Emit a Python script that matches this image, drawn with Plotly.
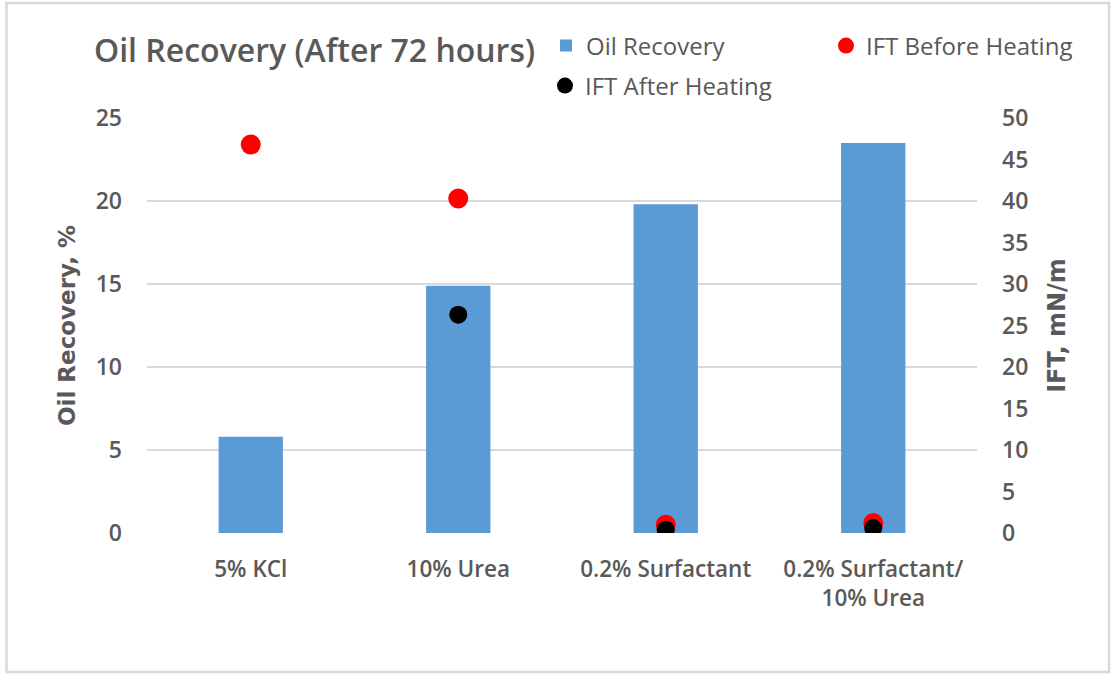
import plotly.graph_objects as go

# Test fluids along the x axis
categories = ["5% KCl", "10% Urea", "0.2% Surfactant", "0.2% Surfactant/<br>10% Urea"]

# Oil recovery after 72 hours, %
oil_recovery = [5.8, 14.9, 19.8, 23.5]

# Interfacial tension, mN/m
ift_before = [46.8, 40.3, 1.0, 1.2]
ift_after = [None, 26.3, 0.4, 0.6]

left_ticks = [0, 5, 10, 15, 20, 25]
right_ticks = [0, 5, 10, 15, 20, 25, 30, 35, 40, 45, 50]

W, H = 1114, 674
ML, MR, MT, MB = 147, 137, 118, 141
PW, PH = W - ML - MR, H - MT - MB

GREY = "#595959"
GRID = "#d9d9d9"
BODY = "'Open Sans', Lato, sans-serif"
AXT = "'DejaVu Sans', Verdana, sans-serif"


def px_x(x):
    return (x - ML) / PW


def px_y(y):
    return (H - MB - y) / PH


fig = go.Figure()

fig.add_trace(go.Bar(
    x=categories, y=oil_recovery, name="Oil Recovery",
    marker=dict(color="#5b9bd5", line=dict(width=0)),
    width=0.31, yaxis="y", legend="legend",
))
fig.add_trace(go.Scatter(
    x=categories, y=ift_before, name="IFT Before Heating", mode="markers",
    marker=dict(color="#ff0000", size=20), yaxis="y2", legend="legend2",
))
fig.add_trace(go.Scatter(
    x=categories, y=ift_after, name="IFT After Heating", mode="markers",
    marker=dict(color="#000000", size=18), yaxis="y2", legend="legend3",
))

legend_common = dict(
    orientation="h", bgcolor="rgba(0,0,0,0)", borderwidth=0,
    font=dict(family=BODY, size=24, color=GREY),
    xanchor="left", yanchor="middle",
)

fig.update_layout(
    width=W, height=H,
    margin=dict(l=ML, r=MR, t=MT, b=MB, pad=0),
    paper_bgcolor="white", plot_bgcolor="white",
    title=dict(
        text="Oil Recovery (After 72 hours)",
        font=dict(family=BODY, size=32, color=GREY, weight=600),
        x=94 / W, xref="container", xanchor="left",
        y=1 - 51 / H, yref="container", yanchor="middle",
    ),
    xaxis=dict(
        type="category", categoryorder="array", categoryarray=categories,
        range=[-0.5, 3.5], showgrid=False, showline=False, zeroline=False,
        ticks="", ticklabelstandoff=20,
        tickfont=dict(family=BODY, size=22.5, color=GREY, weight=600),
    ),
    yaxis=dict(
        range=[0, 25], tickvals=left_ticks, showgrid=True, gridcolor=GRID, gridwidth=2,
        zeroline=False, showline=False, ticks="", ticklabelstandoff=24,
        tickfont=dict(family=BODY, size=23, color=GREY, weight=600),
        title=dict(text="Oil Recovery, %", standoff=13,
                   font=dict(family=AXT, size=23, color=GREY, weight=700)),
    ),
    yaxis2=dict(
        overlaying="y", side="right", range=[0, 50], tickvals=right_ticks,
        showgrid=False, zeroline=False, showline=False, ticks="", ticklabelstandoff=24,
        tickfont=dict(family=BODY, size=23, color=GREY, weight=600),
        title=dict(text="IFT, mN/m", standoff=20,
                   font=dict(family=AXT, size=24, color=GREY, weight=700)),
    ),
    legend=dict(legend_common, x=px_x(546), y=px_y(46)),
    legend2=dict(legend_common, x=px_x(826), y=px_y(46)),
    legend3=dict(legend_common, x=px_x(545), y=px_y(86)),
    bargap=0.69,
    showlegend=True,
    shapes=[dict(
        type="rect", xref="paper", yref="paper",
        x0=px_x(6.5), x1=px_x(1109), y0=px_y(672), y1=px_y(3),
        line=dict(color=GRID, width=2.5), fillcolor="rgba(0,0,0,0)", layer="below",
    )],
)

fig.write_html("out.html")
